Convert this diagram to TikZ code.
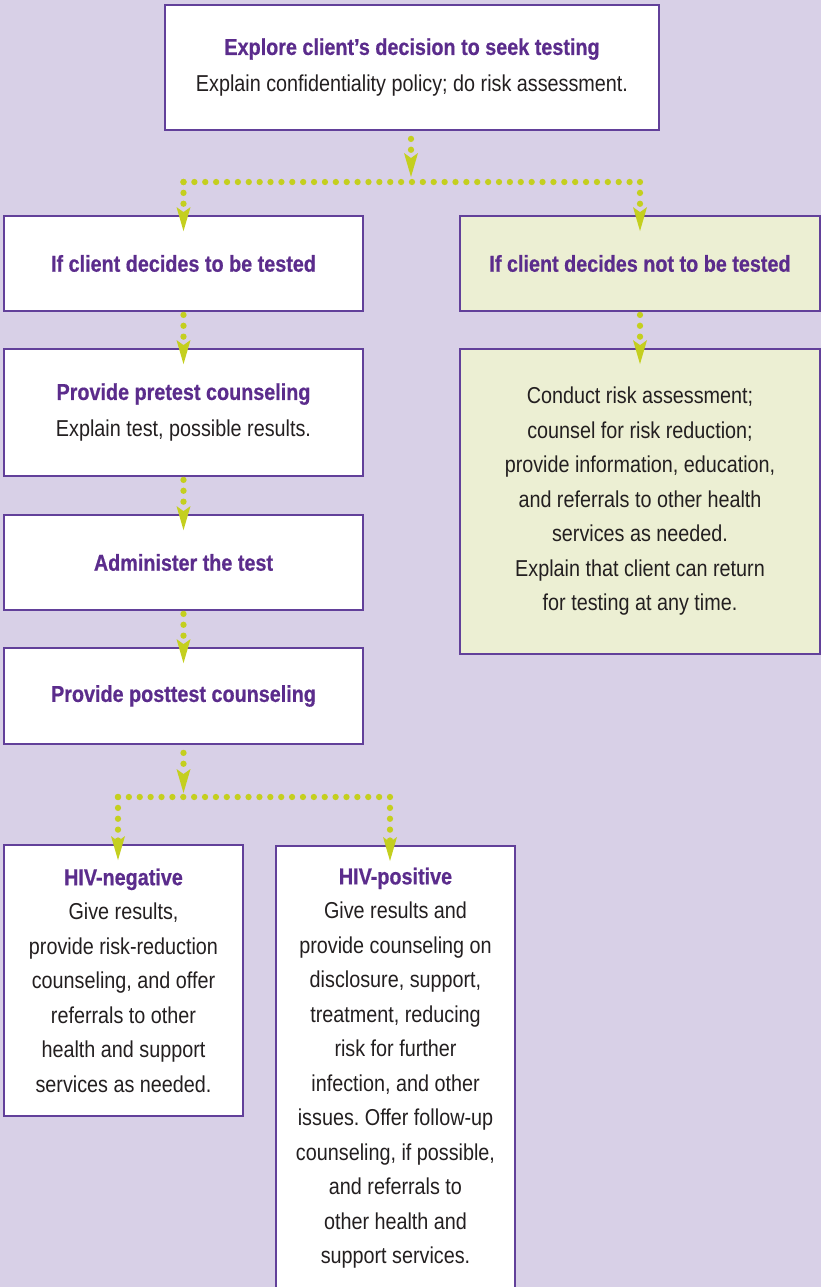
\documentclass[tikz,border=0pt]{standalone}
\usepackage{fontspec}
\setmainfont{Liberation Sans}[FakeStretch=0.86, BoldFeatures={FakeBold=0.6}]
\usetikzlibrary{arrows.meta}
\definecolor{bgc}{HTML}{D8D0E7}
\definecolor{purp}{HTML}{5B2C8C}
\definecolor{edgec}{HTML}{62409A}
\definecolor{grn}{HTML}{C4CF1F}
\definecolor{pale}{HTML}{ECEFD3}
\definecolor{txt}{HTML}{231F20}
\newcommand\hdr[1]{{\bfseries\color{purp}#1}}
\frenchspacing
\begin{document}
\begin{tikzpicture}[x=1pt,y=-1pt,
  box/.style={draw=edgec, line width=1.8pt, fill=white, align=center, inner sep=0pt, text=txt,
    font=\fontsize{23}{34.5}\selectfont},
  palebox/.style={box, fill=pale},
  dotline/.style={draw=grn, line width=6.3pt, line cap=round, dash pattern=on 0pt off 10.88pt},
  conn/.style={dotline, -{Stealth[length=24pt, width=14pt, inset=5pt, line width=0pt, fill=grn]}}
]
\useasboundingbox (0,0) rectangle (821,1287);
\clip (0,0) rectangle (821,1287);
\fill[bgc] (0,0) rectangle (821,1287);

% boxes
\node[box, minimum width=494pt, minimum height=125pt, font=\fontsize{23}{37}\selectfont] (top) at (412,67.5)
  {\hdr{Explore client’s decision to seek testing}\\Explain confidentiality policy; do risk assessment.};
\node[box, minimum width=359pt, minimum height=95pt] (lt) at (183.5,263.5) {\hdr{If client decides to be tested}};
\node[palebox, minimum width=360pt, minimum height=95pt] (rt) at (640,263.5) {\hdr{If client decides not to be tested}};
\node[box, minimum width=359pt, minimum height=127pt, font=\fontsize{23}{37}\selectfont] (pt) at (183.5,412.5)
  {\hdr{Provide pretest counseling}\\Explain test, possible results.};
\node[box, minimum width=359pt, minimum height=95pt] (ad) at (183.5,562.5) {\hdr{Administer the test}};
\node[box, minimum width=359pt, minimum height=96pt] (pc) at (183.5,696) {\hdr{Provide posttest counseling}};
\node[palebox, minimum width=360pt, minimum height=305pt] (rb) at (640,501.5)
  {Conduct risk assessment;\\counsel for risk reduction;\\provide information, education,\\and referrals to other health\\services as needed.\\Explain that client can return\\for testing at any time.};
\node[box, minimum width=239pt, minimum height=271pt] (neg) at (123.5,980.5)
  {\hdr{HIV-negative}\\Give results,\\provide risk-reduction\\counseling, and offer\\referrals to other\\health and support\\services as needed.};
\node[box, minimum width=239pt, minimum height=470pt, anchor=north] (pos) at (395.5,845) {};
\node[align=center, inner sep=0pt, text=txt, font=\fontsize{23}{34.5}\selectfont, anchor=north] (postext) at (395.5,867.5)
  {\hdr{HIV-positive}\\Give results and\\provide counseling on\\disclosure, support,\\treatment, reducing\\risk for further\\infection, and other\\issues. Offer follow-up\\counseling, if possible,\\and referrals to\\other health and\\support services.};

% junctions
\coordinate (j0) at (411,182);
\coordinate (jl) at (183.5,182);
\coordinate (jr) at (640,182);
\coordinate (j2) at (183.5,797);
\coordinate (kl) at (118,797);
\coordinate (kr) at (390,797);

% connectors
\draw[conn, shorten <=8pt, shorten >=5pt] (top.south -| j0) -- (j0);
\draw[dotline] (jl) -- (jr);
\draw[conn] (jl) -- ([yshift=-16pt]lt.north);
\draw[conn] (jr) -- ([yshift=-16pt]rt.north);
\draw[conn, shorten <=3pt] (lt.south) -- ([yshift=-16pt]pt.north);
\draw[conn, shorten <=3pt] (rt.south) -- ([yshift=-16pt]rb.north);
\draw[conn, shorten <=3pt] (pt.south) -- ([yshift=-16pt]ad.north);
\draw[conn, shorten <=3pt] (ad.south) -- ([yshift=-16pt]pc.north);
\draw[conn, shorten <=8pt, shorten >=4pt] (pc.south) -- (j2);
\draw[dotline] (kl) -- (kr);
\draw[conn] (kl) -- ([yshift=-16pt]neg.north -| kl);
\draw[conn] (kr) -- ([yshift=-16pt]pos.north -| kr);
\end{tikzpicture}
\end{document}
